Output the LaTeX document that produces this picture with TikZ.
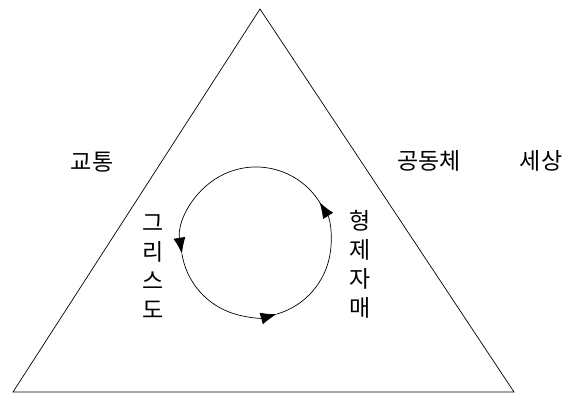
\documentclass[tikz,border=0pt]{standalone}
\usepackage{fontspec}
\usepackage{tikz}
\usetikzlibrary{arrows.meta,calc}
\newfontfamily\krfont{Noto Sans CJK KR}

\begin{document}
\begin{tikzpicture}[x=1pt, y=1pt, line width=0.7pt,
  every node/.style={font=\krfont\fontsize{23pt}{29pt}\selectfont, inner sep=0pt},
  vlabel/.style={align=center},
  flow/.style={-{Latex[length=16pt, width=12pt]}}]

\useasboundingbox (0,0) rectangle (575,394);

% corners of the triangle
\coordinate (top) at (260,385);
\coordinate (bl) at (13,2);
\coordinate (br) at (514,2);
\draw (top) -- (br) -- (bl) -- cycle;

% the circle, radius \rr, with three arrows running round it
\def\rr{75}
\coordinate (c) at (256,152);
\draw[flow] ($(c)+(29:\rr)$) arc[start angle=29, end angle=189, radius=\rr];
\draw[flow] ($(c)+(189:\rr)$) arc[start angle=189, end angle=286, radius=\rr];
\draw[flow] ($(c)+(286:\rr)$) arc[start angle=286, end angle=392, radius=\rr];

% labels
\node (kyotong) at (92,232) {교통};
\node (kongdongche) at (429,233) {공동체};
\node (sesang) at (541,233) {세상};
\node[vlabel] (christ) at (153,127) {그\\리\\스\\도};
\node[vlabel] (siblings) at (360,130) {형\\제\\자\\매};

\end{tikzpicture}
\end{document}
